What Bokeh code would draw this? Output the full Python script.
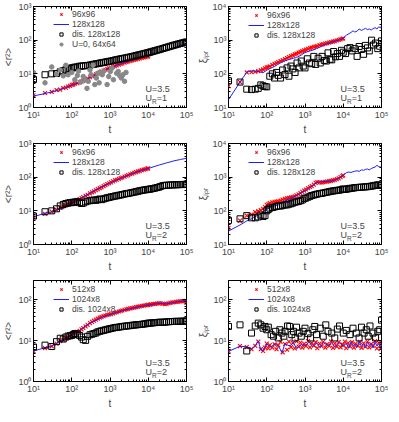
from bokeh.plotting import figure
from bokeh.layouts import gridplot
from bokeh.models import LogAxis, LogTicker, CustomJSTickFormatter, Legend, LegendItem, Label
from bokeh.embed import file_html
from bokeh.resources import INLINE

# ---------------- time grids ----------------
t_red = [10, 20, 30, 40, 50, 60, 70, 80, 90, 100, 110, 120, 140, 160, 180, 200, 230, 260, 300, 340,
         380, 430, 480, 540, 600, 680, 760, 850, 950, 1060, 1200, 1350, 1500, 1700, 1900, 2100, 2400,
         2700, 3000, 3400, 3800, 4300, 4800, 5400, 6000, 6800, 7600, 8500, 9500, 10000]
t_long = t_red + [11000, 12000, 13500, 15000, 17000, 19000, 21000, 24000, 27000, 30000, 34000, 38000,
                  43000, 48000, 54000, 60000, 68000, 76000, 85000, 95000, 100000]
t_line = [10, 20, 30, 50, 70, 100, 150, 200, 300, 500, 700, 1000, 1500, 2000, 3000, 5000, 7000, 10000,
          15000, 20000, 30000, 50000, 70000, 100000]
t_line2 = [10, 20, 30, 40, 50, 60, 70, 80, 100, 130, 160, 200, 250, 300, 400, 500, 600, 800, 1000, 1300,
           1600, 2000, 2500, 3000, 4000, 5000, 6000, 8000, 10000, 12000, 14000, 16000, 18000, 20000, 23000,
           26000, 30000, 34000, 38000, 43000, 48000, 54000, 60000, 68000, 76000, 85000, 95000, 100000]

# ---------------- panel 1: <r^2>, U_R=1 ----------------
r2_ur1_96 = [2.3, 2.7, 2.9, 3.3, 3.4, 3.8, 3.9, 4.2, 4.4, 4.7, 4.8, 5.1, 5.3, 5.6, 5.9, 6.2, 6.7, 7.2, 7.9,
             8.5, 9.1, 9.6, 10.3, 11, 11.8, 12.5, 13.2, 14, 14.6, 15.4, 16.2, 17, 17.8, 18.8, 19.6, 20.3,
             21.5, 22.4, 23.4, 24.3, 25, 26, 26.8, 27.8, 28.5, 29.5, 30.5, 31.4, 32.3, 32.8]
r2_ur1_128 = [2.2, 2.6, 2.9, 3.4, 3.9, 4.6, 5.4, 6.0, 7.6, 10.4, 12.6, 15, 18, 20, 23.5, 27.5, 30.5, 34,
              39, 43, 50, 61, 70, 80]
r2_ur1_dis = [6.8, 9.4, 10, 10.2, 11.5, 12.5, 13.2, 13.8, 14.5, 15, 15.2, 15.8, 16.2, 16.8, 17, 17.2, 17.5,
              17.8, 18.2, 18.8, 19.3, 19.8, 20.2, 20.8, 21.3, 21.8, 22.4, 23, 23.5, 24, 24.8, 25.6, 26.3,
              27, 27.8, 28.4, 29.3, 30, 30.8, 31.8, 32.7, 33.8, 34.8, 36, 37, 38.3, 39.5, 40.8, 42, 42.5,
              44, 45.2, 47, 48.5, 50.5, 52.3, 54, 56.5, 58.8, 61, 63.5, 66, 68.8, 71.3, 74, 76.5, 79.5,
              82, 84.5, 87, 88]
t_u0 = [10, 20, 30, 40, 50, 60, 70, 80, 100, 120, 140, 150, 170, 200, 220, 250, 270, 300, 320, 360, 400,
        440, 480, 520, 575, 630, 690, 840, 925, 1020, 1120, 1230, 1490, 1640, 1800, 1980, 2180, 2400, 2620]
r2_u0 = [11, 5.4, 16, 9.8, 13, 8.7, 18, 9.4, 11, 6.7, 8.9, 12, 5.7, 8.3, 6.7, 3.7, 6.0, 13, 9.4, 18, 4.8,
         7.5, 10.4, 5.4, 11, 9.4, 12, 4.8, 8.3, 11.7, 14.6, 6.7, 10.4, 11.7, 8.7, 7.5, 9.4, 6.0, 11]

# ---------------- panel 2: xi_IPR, U_R=1 ----------------
xi_ur1_96 = [43, 57, 110, 112, 115, 120, 128, 135, 145, 155, 160, 168, 185, 198, 210, 225, 240, 255, 275,
             295, 315, 335, 355, 380, 400, 425, 450, 475, 500, 525, 550, 580, 600, 630, 650, 670, 710,
             740, 760, 790, 820, 850, 880, 910, 940, 980, 1020, 1060, 1100, 1120]
xi_ur1_128 = [17, 57, 112, 122, 120, 117, 112, 108, 128, 150, 165, 200, 225, 245, 270, 290, 305, 360, 430,
              470, 505, 560, 630, 700, 800, 870, 920, 1020, 1150, 1400, 1550, 1700, 1900, 1750, 1850, 2150,
              1950, 2100, 2250, 2050, 2150, 2000, 2200, 2350, 2150, 2500, 2300, 2700]
t_xi_ur1_dis = [10, 20, 30, 40, 50, 60, 70, 80, 90, 100, 120, 140, 160, 180, 200, 230, 260, 300, 340, 380,
                430, 480, 550, 620, 700, 800, 900, 1000, 1150, 1300, 1500, 1700, 1900, 2200, 2500, 2800,
                3200, 3600, 4000, 4500, 5000, 5600, 6300, 7000, 8000, 9000, 10000, 11500, 13000, 15000,
                17000, 20000, 23000, 26000, 30000, 34000, 38000, 43000, 48000, 55000, 62000, 70000, 80000,
                90000, 100000]
xi_ur1_dis = [62, 57, 35, 34, 35, 37, 47, 44, 42, 41, 85, 100, 75, 110, 90, 75, 130, 95, 150, 85, 170, 140,
              110, 210, 150, 240, 170, 150, 280, 210, 200, 330, 190, 290, 210, 330, 250, 240, 420, 270,
              260, 460, 320, 400, 330, 500, 440, 400, 560, 600, 480, 560, 330, 650, 530, 380, 700, 590,
              480, 1000, 720, 820, 560, 660, 950]

# ---------------- panel 3: <r^2>, U_R=2 ----------------
r2_ur2_96 = [7, 8.2, 9.5, 10.8, 12.5, 13.5, 14.5, 15.5, 16.5, 17.5, 18.5, 19.5, 21, 22.5, 24, 25.5, 28, 30,
             33, 35.5, 38, 41, 44, 47, 50, 54, 58, 62, 66, 70, 75, 80, 84, 89, 94, 98, 104, 110, 115, 122,
             128, 135, 141, 148, 154, 161, 168, 174, 180, 183]
r2_ur2_128 = [6.7, 8.4, 9.3, 11.5, 13.5, 17, 22, 26, 33, 46, 55, 67, 82, 93, 115, 143, 160, 180, 210, 232,
              265, 310, 335, 365]
r2_ur2_dis = [7, 9.4, 10, 11.5, 14, 15.5, 16.5, 17, 17.5, 17.5, 18, 18.2, 18.8, 17.5, 16.5, 17, 18.5, 19.5,
              20, 20.5, 21, 20.5, 21.5, 22.5, 21.5, 22.5, 23.5, 24.5, 25, 26, 26.5, 27.5, 28, 29, 29.5,
              30.5, 31.5, 32.5, 33, 34, 35, 36, 37, 38, 39.5, 40.5, 41.5, 42, 43, 43.5, 44, 45, 46, 47.5,
              49, 50.5, 53, 56, 57, 57.5, 58, 58.5, 59, 59.5, 59, 60, 60.5, 60, 61, 61, 61]

# ---------------- panel 4: xi_IPR, U_R=2 ----------------
xi_ur2_96 = [31, 51, 72, 78, 92, 98, 105, 115, 130, 150, 160, 170, 180, 185, 188, 192, 200, 215, 228, 235,
             242, 250, 258, 270, 290, 310, 335, 365, 400, 430, 470, 510, 540, 600, 680, 720, 700, 690, 710,
             730, 740, 760, 780, 800, 830, 870, 920, 1000, 1080, 1130]
xi_ur2_128 = [25, 38, 50, 58, 67, 76, 84, 92, 110, 130, 140, 150, 175, 200, 230, 255, 280, 340, 400, 470,
              560, 690, 720, 740, 760, 780, 820, 950, 1130, 1350, 1420, 1380, 1450, 1500, 1550, 1480, 1650,
              1600, 1700, 1750, 1650, 1800, 1900, 2000, 2250, 2050, 2000, 1900]
xi_ur2_dis = [52, 58, 72, 62, 62, 66, 75, 68, 72, 100, 110, 120, 125, 130, 135, 140, 138, 145, 150, 150,
              158, 162, 170, 180, 185, 190, 200, 210, 230, 240, 255, 270, 285, 295, 305, 315, 325, 330,
              340, 350, 360, 370, 380, 390, 395, 405, 410, 420, 435, 445, 430, 440, 450, 465, 470, 480,
              490, 495, 500, 505, 510, 515, 520, 530, 540, 555, 570, 585, 590, 575, 565]

# ---------------- panel 5: <r^2>, 1024x8 ----------------
r2_512 = [5.5, 6.6, 7.3, 8.5, 9.7, 10.5, 11.5, 12.3, 13, 14, 14.8, 15.5, 16.5, 17.5, 19, 20.5, 22.5, 24.5,
          27, 29, 31, 33, 35, 37, 38.5, 40, 41.5, 43, 44, 45, 47, 48.5, 50, 52, 53.5, 55, 57, 59, 60.5, 62,
          63.5, 65, 66.5, 68, 69.5, 71, 72.5, 74, 75, 76, 77, 78, 79.5, 80.5, 82, 82.5, 83, 81, 79, 80, 83,
          85, 87, 88, 90, 91, 92, 93, 94, 95, 85]
r2_1024 = [5.6, 6.7, 7.4, 9.7, 11.7, 14, 17, 21, 27, 34, 39, 44, 49, 53, 60, 66, 70, 75, 80, 82, 80, 88,
           92, 97]
r2_1024_dis = [7, 7.8, 7.2, 9.5, 11.5, 11, 12.3, 13, 13.2, 13.5, 14.2, 15, 14.6, 13.5, 12.3, 10.6, 10.2,
               12.8, 14, 14.5, 15, 15.5, 16.5, 17, 17.5, 18, 18.5, 19, 19.5, 20, 20.5, 21, 21.3, 21.5, 22,
               22.4, 22.7, 23, 23.2, 23.5, 24, 24.2, 24.5, 24.8, 25, 25.3, 25.7, 26, 26.5, 27, 27, 27.2,
               27.5, 27.8, 28, 28.3, 28.5, 28.3, 28.6, 29, 29.2, 29.5, 29.6, 29.8, 30, 29.7, 30, 30.2, 30,
               30.3, 30.5]

# ---------------- panel 6: xi_IPR, 1024x8 ----------------
xi_512 = [5.6, 7.4, 7, 6.2, 7.5, 9.5, 6.2, 5.6, 6.8, 8.5, 6.5, 7.8, 6.8, 8.2, 6.2, 7.8, 9.4, 5.2, 8.3, 6,
          9.5, 7, 8.8, 6.5, 9.7, 7.2, 9, 6.8, 8.4, 7.4, 9.8, 6.9, 8.8, 7.6, 9.2, 6.6, 8.5, 7.4, 9.4, 6.8,
          8.2, 7.5, 9.6, 6.7, 8.6, 7.2, 9.3, 6.9, 8.1, 7.7, 9.5, 6.6, 8.8, 7.3, 9.2, 6.8, 8.4, 7.5, 9.4,
          6.7, 8.6, 7.2, 9.5, 6.9, 8.3, 7.6, 9.8, 6.5, 8.9, 6.3, 7.8]
xi_1024 = [5.5, 7.3, 7.1, 6.3, 7.6, 9.8, 6, 5.7, 8.3, 6.9, 8.4, 7.6, 5.1, 8.5, 7.4, 9, 6.4, 8.1, 7.5, 9.3,
           7.1, 8.9, 6.8, 9, 7.6, 8.9, 7, 9.1, 7.3, 8.7, 6.6, 9.4, 7.5, 8.2, 6.9, 9.6, 7.2, 8.5, 6.8, 9.3,
           7.7, 8.6, 6.6, 9.2, 7.4, 8.4, 6.4, 9]
t_xi_1024_dis = [10, 20, 30, 40, 50, 60, 70, 80, 90, 100, 110, 130, 150, 170, 200, 220, 250, 280, 300, 350,
                 400, 450, 500, 550, 600, 700, 800, 900, 1000, 1200, 1400, 1600, 1800, 2000, 2500, 3000,
                 3500, 4000, 5000, 6000, 7000, 8000, 10000, 12000, 15000, 18000, 22000, 26000, 30000, 35000,
                 40000, 45000, 50000, 60000, 70000, 80000, 90000, 100000]
xi_1024_dis = [22.4, 24.5, 5.6, 15.4, 23, 27, 24.5, 20.3, 22.4, 18.6, 21.5, 14.1, 12.9, 17, 11.7, 18.6,
               15.4, 12.9, 17, 23, 22.4, 14.1, 17, 11.7, 21.5, 15.4, 12.9, 17, 20.3, 14.9, 11.7, 18.6, 22.4,
               14.1, 20.3, 12.9, 24.5, 17, 15.4, 11.7, 19.3, 23, 15.4, 17.9, 14.1, 20.3, 15.4, 11.7, 21.5,
               15.4, 18.6, 12.9, 23, 15.4, 11.7, 17, 18.6, 32]

FONT = "Liberation Sans"
FMT = """
const e = Math.round(Math.log10(tick));
const s = {"-":"\u207b","0":"\u2070","1":"\u00b9","2":"\u00b2","3":"\u00b3","4":"\u2074","5":"\u2075","6":"\u2076","7":"\u2077","8":"\u2078","9":"\u2079"};
return "10" + String(e).split("").map(c => s[c]).join("");
"""


def panel(y_lo, y_hi, ylabel, red, blue, dis, grey, labels, ur):
    p = figure(x_axis_type="log", y_axis_type="log", x_range=(10, 1e5), y_range=(y_lo, y_hi),
               frame_width=153, frame_height=101, output_backend="svg", toolbar_location=None,
               min_border_left=30, min_border_right=8, min_border_top=6, min_border_bottom=24)
    p.grid.visible = False
    p.outline_line_color = "black"
    p.outline_line_width = 1
    for ax in (p.xaxis[0], p.yaxis[0]):
        ax.ticker = LogTicker(num_minor_ticks=10)
        ax.formatter = CustomJSTickFormatter(code=FMT)
        ax.major_tick_in = 4
        ax.major_tick_out = 0
        ax.minor_tick_in = 2
        ax.minor_tick_out = 0
        ax.axis_line_color = None
        ax.major_label_text_font = FONT
        ax.major_label_text_font_size = "9px"
        ax.major_label_standoff = 2
        ax.axis_label_text_font = FONT
        ax.axis_label_text_font_size = "10px"
        ax.axis_label_text_font_style = "normal"
        ax.axis_label_standoff = 1
    p.xaxis.axis_label = "t"
    p.yaxis.axis_label = ylabel
    for side in ("right", "above"):
        m = LogAxis(ticker=LogTicker(num_minor_ticks=10), formatter=CustomJSTickFormatter(code="return ''"),
                    major_label_text_font_size="1px", major_tick_in=4, major_tick_out=0,
                    minor_tick_in=2, minor_tick_out=0, axis_line_color=None, major_label_standoff=0)
        p.add_layout(m, side)

    items = []
    r1 = p.scatter(red[0], red[1], marker="x", size=5.5, line_color="#ff0000", line_width=1.1)
    items.append(LegendItem(label=labels[0], renderers=[r1]))
    r2 = p.line(blue[0], blue[1], line_color="#2020ff", line_width=1)
    items.append(LegendItem(label=labels[1], renderers=[r2]))
    r3 = p.scatter(dis[0], dis[1], marker="square", size=6, fill_color=None, line_color="black", line_width=1)
    items.append(LegendItem(label=labels[2], renderers=[r3]))
    if grey is not None:
        r4 = p.scatter(grey[0], grey[1], marker="circle", size=4.5, fill_color="#888888", line_color="#888888")
        items.append(LegendItem(label=labels[3], renderers=[r4]))
    n = len(items)
    leg = Legend(items=items, location=(18, 98 - n * 9 - 6), label_text_font=FONT,
                 label_text_font_size="8.5px", label_height=8, glyph_height=8, glyph_width=16,
                 spacing=0, padding=2, margin=0, label_standoff=3,
                 background_fill_alpha=0, border_line_alpha=0)
    p.add_layout(leg)

    p.add_layout(Label(x=1e5, y=y_lo, x_offset=-41, y_offset=14, text="U=3.5", text_font=FONT,
                       text_font_size="9px", text_align="left", text_baseline="bottom"))
    p.add_layout(Label(x=1e5, y=y_lo, x_offset=-41, y_offset=5, text="U", text_font=FONT,
                       text_font_size="9px", text_align="left", text_baseline="bottom"))
    p.add_layout(Label(x=1e5, y=y_lo, x_offset=-34.5, y_offset=3, text="R", text_font=FONT,
                       text_font_size="6.5px", text_align="left", text_baseline="bottom"))
    p.add_layout(Label(x=1e5, y=y_lo, x_offset=-29.8, y_offset=5, text="=" + ur, text_font=FONT,
                       text_font_size="9px", text_align="left", text_baseline="bottom"))
    return p


R2 = "<r\u00b2>"
XI = "\u03be\u1d62\u209a\u1d63"

p1 = panel(1, 1000, R2, (t_red, r2_ur1_96), (t_line, r2_ur1_128), (t_long, r2_ur1_dis), (t_u0, r2_u0),
           ["96x96", "128x128", "dis. 128x128", "U=0, 64x64"], "1")
p2 = panel(10, 1e4, XI, (t_red, xi_ur1_96), (t_line2, xi_ur1_128), (t_xi_ur1_dis, xi_ur1_dis), None,
           ["96x96", "128x128", "dis. 128x128"], "1")
p3 = panel(1, 1000, R2, (t_red, r2_ur2_96), (t_line, r2_ur2_128), (t_long, r2_ur2_dis), None,
           ["96x96", "128x128", "dis. 128x128"], "2")
p4 = panel(10, 1e4, XI, (t_red, xi_ur2_96), (t_line2, xi_ur2_128), (t_long, xi_ur2_dis), None,
           ["96x96", "128x128", "dis. 128x128"], "2")
p5 = panel(1, 300, R2, (t_long, r2_512), (t_line, r2_1024), (t_long, r2_1024_dis), None,
           ["512x8", "1024x8", "dis. 1024x8"], "2")
p6 = panel(1, 300, XI, (t_long, xi_512), (t_line2, xi_1024), (t_xi_1024_dis, xi_1024_dis), None,
           ["512x8", "1024x8", "dis. 1024x8"], "2")

grid = gridplot([[p1, p2], [p3, p4], [p5, p6]], toolbar_location=None)
open("out.html", "w").write(file_html(grid, INLINE))
